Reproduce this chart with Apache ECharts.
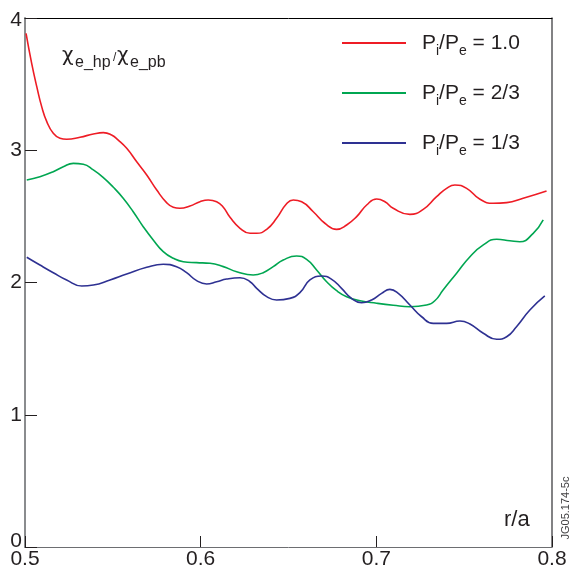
<!DOCTYPE html>
<html>
<head>
<meta charset="utf-8">
<script src="https://cdn.jsdelivr.net/npm/echarts@6/dist/echarts.min.js"></script>
<style>
  html, body { margin: 0; padding: 0; background: #fff; }
  #chart { width: 571px; height: 573px; }
</style>
</head>
<body>
<div id="chart"></div>
<script>
// Normalised radius r/a and the diffusivity ratio for each power split
const rRed = [0.5006, 0.5038, 0.5067, 0.5095, 0.5124, 0.5161, 0.5199, 0.5237, 0.5313, 0.5389, 0.5446, 0.5493, 0.5531, 0.5579, 0.5636, 0.5693, 0.575, 0.5806, 0.5844, 0.5882, 0.5939, 0.5996, 0.6043, 0.6091, 0.6129, 0.6167, 0.6224, 0.6281, 0.6319, 0.6376, 0.6432, 0.6489, 0.6527, 0.6575, 0.6641, 0.6707, 0.6774, 0.6831, 0.6888, 0.6945, 0.7002, 0.7049, 0.7096, 0.7191, 0.7267, 0.7343, 0.74, 0.7447, 0.7514, 0.759, 0.7665, 0.7742, 0.7836, 0.7969];
const chiRed = [3.884, 3.657, 3.481, 3.33, 3.216, 3.128, 3.09, 3.083, 3.098, 3.123, 3.133, 3.115, 3.077, 3.015, 2.913, 2.813, 2.699, 2.604, 2.569, 2.561, 2.578, 2.611, 2.624, 2.611, 2.569, 2.493, 2.41, 2.372, 2.372, 2.402, 2.485, 2.595, 2.624, 2.611, 2.535, 2.448, 2.402, 2.435, 2.498, 2.586, 2.631, 2.611, 2.561, 2.515, 2.553, 2.649, 2.712, 2.737, 2.712, 2.629, 2.599, 2.604, 2.637, 2.692];

const rGreen = [0.501, 0.5085, 0.5161, 0.5218, 0.5275, 0.5332, 0.5389, 0.5446, 0.5503, 0.5559, 0.5616, 0.5673, 0.573, 0.5787, 0.5844, 0.5901, 0.5977, 0.6053, 0.6129, 0.6205, 0.6299, 0.6356, 0.6413, 0.647, 0.6546, 0.6603, 0.666, 0.6717, 0.6774, 0.6831, 0.6907, 0.7002, 0.7096, 0.7191, 0.7286, 0.7333, 0.738, 0.7457, 0.7533, 0.7609, 0.7685, 0.776, 0.7817, 0.7893, 0.795];
const chiGreen = [2.775, 2.8, 2.838, 2.876, 2.901, 2.894, 2.851, 2.793, 2.72, 2.637, 2.535, 2.422, 2.321, 2.233, 2.183, 2.157, 2.15, 2.145, 2.12, 2.082, 2.057, 2.074, 2.12, 2.17, 2.2, 2.175, 2.095, 2.006, 1.938, 1.893, 1.862, 1.843, 1.828, 1.817, 1.83, 1.862, 1.943, 2.07, 2.195, 2.284, 2.327, 2.316, 2.308, 2.372, 2.473];

const rBlue = [0.501, 0.5085, 0.5161, 0.5237, 0.5323, 0.5389, 0.5484, 0.5579, 0.5693, 0.5787, 0.5863, 0.592, 0.5977, 0.6034, 0.6091, 0.6148, 0.6224, 0.6281, 0.6319, 0.6376, 0.6432, 0.6508, 0.6565, 0.6622, 0.6689, 0.6746, 0.6802, 0.6859, 0.6916, 0.6973, 0.703, 0.7077, 0.7125, 0.7191, 0.7258, 0.7324, 0.74, 0.7476, 0.7533, 0.7609, 0.7685, 0.7742, 0.7798, 0.7874, 0.7959];
const chiBlue = [2.191, 2.132, 2.074, 2.019, 1.974, 1.981, 2.019, 2.064, 2.115, 2.138, 2.12, 2.074, 2.014, 1.989, 2.006, 2.026, 2.036, 2.006, 1.956, 1.893, 1.868, 1.88, 1.923, 2.019, 2.049, 2.024, 1.956, 1.88, 1.847, 1.868, 1.918, 1.948, 1.918, 1.83, 1.741, 1.691, 1.691, 1.709, 1.686, 1.616, 1.571, 1.59, 1.666, 1.792, 1.898];

const seriesNames = ['1.0', '2/3', '1/3'];
const seriesColors = ['#ee1c25', '#00a651', '#2e3192'];

const FONT = '"Liberation Sans", Arial, Helvetica, sans-serif';
const CHI_FONT = '"DejaVu Sans", "Liberation Sans", sans-serif';
const TEXT = '#231f20';

function pairs(xs, ys) {
  return xs.map((x, i) => [x, ys[i]]);
}

const chart = echarts.init(document.getElementById('chart'), null, { renderer: 'canvas' });

const legendRich = {
  p0: { fontSize: 21, fontFamily: FONT, color: TEXT, lineHeight: 30, padding: [0, 0, 0, 11] },
  p: { fontSize: 21, fontFamily: FONT, color: TEXT, lineHeight: 30 },
  s: { fontSize: 14, fontFamily: FONT, color: TEXT, lineHeight: 10, verticalAlign: 'bottom' }
};

const option = {
  animation: false,
  backgroundColor: '#ffffff',
  grid: { left: 25, right: 19, top: 18, bottom: 26, containLabel: false },
  legend: {
    orient: 'vertical',
    left: 337,
    top: 23,
    itemWidth: 64,
    itemHeight: 2,
    itemGap: 20,
    icon: 'rect',
    selectedMode: false,
    data: seriesNames,
    formatter: name => '{p0|P}{s|i}{p|/P}{s|e}{p| = ' + name + '}',
    textStyle: { rich: legendRich, lineHeight: 30, height: 30 }
  },
  xAxis: [
    {
      type: 'value',
      min: 0.5, max: 0.8, interval: 0.1,
      axisLine: { show: true, lineStyle: { color: '#6d6e71', width: 1 } },
      axisTick: { show: true, inside: true, length: 11, lineStyle: { color: '#231f20', width: 1 } },
      axisLabel: {
        margin: 2,
        fontSize: 21, fontFamily: FONT, color: TEXT,
        formatter: v => v.toFixed(1)
      },
      splitLine: { show: false }
    },
    {
      type: 'value', position: 'top',
      min: 0.5, max: 0.8, interval: 0.1,
      axisLine: { show: true, onZero: false, lineStyle: { color: '#000000', width: 1 } },
      axisTick: { show: false }, axisLabel: { show: false }, splitLine: { show: false }
    }
  ],
  yAxis: [
    {
      type: 'value',
      min: 0, max: 4, interval: 1,
      axisLine: { show: true, lineStyle: { color: '#8a8c8e', width: 2 } },
      axisTick: { show: true, inside: true, length: 12, lineStyle: { color: '#231f20', width: 1 } },
      axisLabel: {
        margin: 3,
        fontSize: 21, fontFamily: FONT, color: TEXT,
        formatter: v => v === 0 ? '{z|0}' : (v === 4 ? '{t|4}' : String(v)),
        rich: {
          z: { fontSize: 21, fontFamily: FONT, color: TEXT, padding: [0, 0, 12, 0] },
          t: { fontSize: 21, fontFamily: FONT, color: TEXT, padding: [4, 0, 0, 0] }
        }
      },
      splitLine: { show: false }
    },
    {
      type: 'value', position: 'right',
      min: 0, max: 4, interval: 1,
      axisLine: { show: true, onZero: false, lineStyle: { color: '#58595b', width: 1.5 } },
      axisTick: { show: false }, axisLabel: { show: false }, splitLine: { show: false }
    }
  ],
  series: [
    { name: seriesNames[0], data: pairs(rRed, chiRed) },
    { name: seriesNames[1], data: pairs(rGreen, chiGreen) },
    { name: seriesNames[2], data: pairs(rBlue, chiBlue) }
  ].map((s, i) => ({
    type: 'line',
    name: s.name,
    data: s.data,
    xAxisIndex: 0,
    yAxisIndex: 0,
    smooth: 0.5,
    showSymbol: false,
    symbol: 'none',
    color: seriesColors[i],
    lineStyle: { color: seriesColors[i], width: 1.6 }
  })),
  graphic: [
    // quantity label: chi_e_hp / chi_e_pb
    { type: 'text', left: 62, top: 46, style: { text: 'χ', font: '20px ' + CHI_FONT, fill: TEXT } },
    { type: 'text', left: 75, top: 55, style: { text: 'e_hp', font: '16px ' + FONT, fill: TEXT } },
    { type: 'text', left: 113, top: 52, style: { text: '/', font: '12px ' + FONT, fill: TEXT } },
    { type: 'text', left: 117, top: 46, style: { text: 'χ', font: '20px ' + CHI_FONT, fill: TEXT } },
    { type: 'text', left: 130, top: 55, style: { text: 'e_pb', font: '16px ' + FONT, fill: TEXT } },
    // axis name
    { type: 'text', left: 504, top: 509, style: { text: 'r/a', font: '22px ' + FONT, fill: TEXT } },
    // figure reference
    {
      type: 'text', x: 566, y: 508, rotation: Math.PI / 2,
      style: { text: 'JG05.174-5c', font: '11px ' + FONT, fill: '#414042', align: 'center', verticalAlign: 'middle' }
    }
  ]
};

chart.setOption(option);
</script>
</body>
</html>
